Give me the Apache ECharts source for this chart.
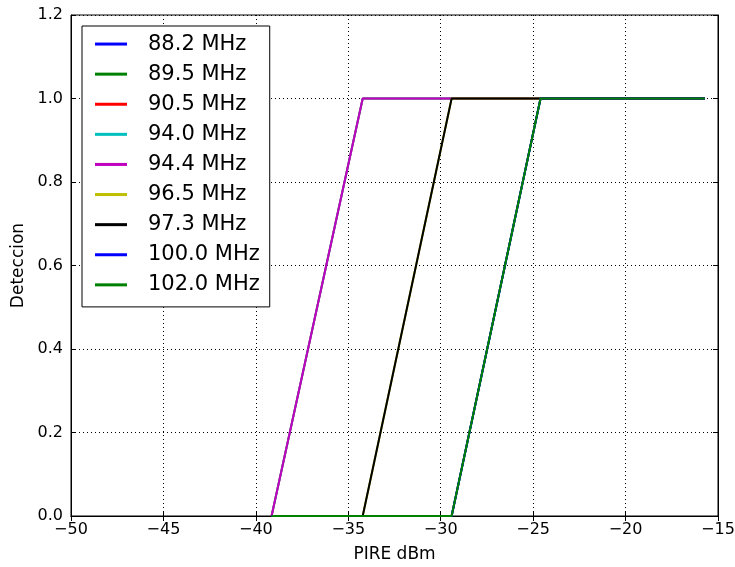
<!DOCTYPE html>
<html>
<head>
<meta charset="utf-8">
<script src="https://cdn.jsdelivr.net/npm/echarts@6/dist/echarts.min.js"></script>
<style>
  html, body { margin: 0; padding: 0; background: #fff; }
  #chart { width: 735px; height: 567px; }
</style>
</head>
<body>
<div id="chart"></div>
<script>
// PIRE values (dBm) where the curves change
const pire = [-39.15, -34.22, -29.41, -24.6, -15.71];

// Detection curves, one per step position
const detA = [0, 1, 1, 1, 1];
const detB = [0, 0, 1, 1, 1];
const detC = [0, 0, 0, 1, 1];

const freqNames = ["88.2 MHz", "89.5 MHz", "90.5 MHz", "94.0 MHz", "94.4 MHz",
                   "96.5 MHz", "97.3 MHz", "100.0 MHz", "102.0 MHz"];
const freqColors = ["#0000ff", "#008000", "#ff0000", "#00bfbf", "#bf00bf",
                    "#bfbf00", "#000000", "#0000ff", "#008000"];
const freqDet = [detC, detC, detA, detA, detA, detB, detB, detC, detC];

const font = "DejaVu Sans";
const minus = (v) => String(v).replace("-", "\u2212");

const chart = echarts.init(document.getElementById("chart"));

const series = freqNames.map((name, i) => ({
  name: name,
  type: "line",
  data: pire.map((x, j) => [x, freqDet[i][j]]),
  showSymbol: false,
  symbol: "none",
  color: freqColors[i],
  lineStyle: { width: 2, color: freqColors[i] },
  animation: false,
}));

const gridLine = { show: true, lineStyle: { color: "#000", type: [1, 3], width: 1 } };

chart.setOption({
  animation: false,
  textStyle: { fontFamily: font },
  grid: { left: 71, right: 17, top: 15, bottom: 51, show: true,
          outerBoundsMode: "none", containLabel: false,
          borderColor: "#000", borderWidth: 1, backgroundColor: "transparent" },
  legend: {
    orient: "vertical",
    left: 82, top: 26,
    padding: [3, 10, 7, 13],
    itemGap: 0,
    itemWidth: 32, itemHeight: 3,
    icon: "rect",
    borderColor: "#000", borderWidth: 1, borderRadius: 0,
    backgroundColor: "#fff",
    textStyle: { fontFamily: font, fontSize: 21, color: "#000",
                 lineHeight: 30.1, padding: [0, 0, 0, 16] },
    data: freqNames,
  },
  xAxis: [{
    type: "value", min: -50, max: -15, interval: 5,
    name: "PIRE dBm", nameLocation: "middle", nameGap: 30,
    nameTextStyle: { fontFamily: font, fontSize: 17, color: "#000" },
    axisLine: { show: true, lineStyle: { color: "#000", width: 1 } },
    axisTick: { show: true, inside: true, length: 5, lineStyle: { color: "#000" } },
    axisLabel: { fontFamily: font, fontSize: 16, color: "#000", margin: 6, formatter: minus },
    splitLine: gridLine,
  }, {
    type: "value", min: -50, max: -15, interval: 5, position: "top",
    axisLine: { show: true, lineStyle: { color: "#000", width: 1 } },
    axisTick: { show: true, inside: true, length: 5, lineStyle: { color: "#000" } },
    axisLabel: { show: false }, splitLine: { show: false },
  }],
  yAxis: [{
    type: "value", min: 0, max: 1.2, interval: 0.2,
    name: "Deteccion", nameLocation: "middle", nameGap: 36, nameRotate: 90,
    nameTextStyle: { fontFamily: font, fontSize: 17, color: "#000" },
    axisLine: { show: true, lineStyle: { color: "#000", width: 1 } },
    axisTick: { show: true, inside: true, length: 5, lineStyle: { color: "#000" } },
    axisLabel: { fontFamily: font, fontSize: 16, color: "#000", margin: 8,
                 formatter: (v) => v.toFixed(1) },
    splitLine: gridLine,
  }, {
    type: "value", min: 0, max: 1.2, interval: 0.2, position: "right",
    axisLine: { show: true, lineStyle: { color: "#000", width: 1 } },
    axisTick: { show: true, inside: true, length: 5, lineStyle: { color: "#000" } },
    axisLabel: { show: false }, splitLine: { show: false },
  }],
  series: series,
});
</script>
</body>
</html>
